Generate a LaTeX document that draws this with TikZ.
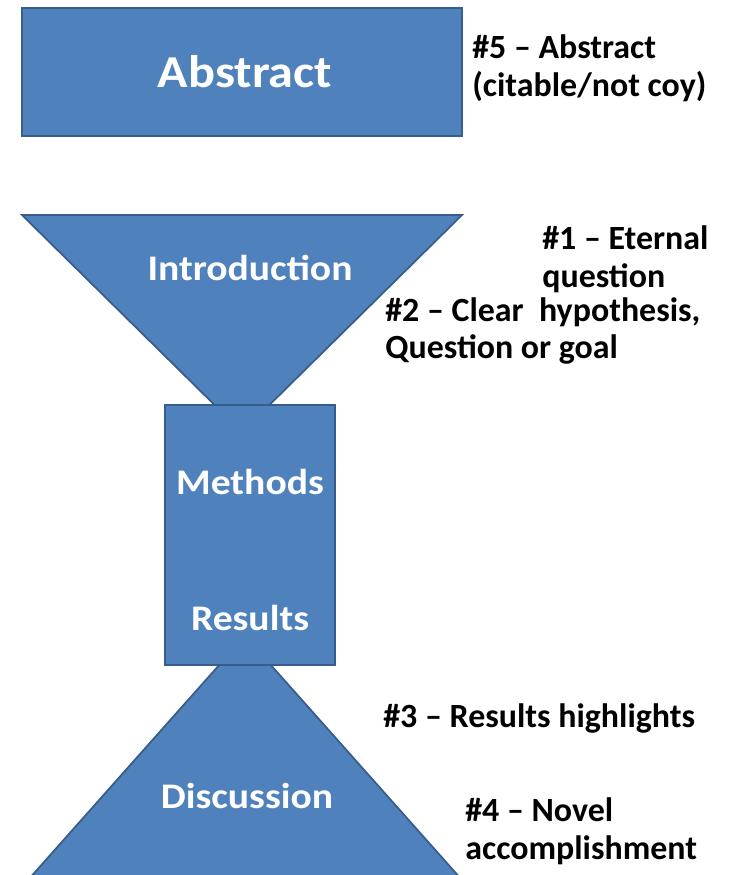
\documentclass[tikz,border=0pt]{standalone}
\usepackage{fontspec}
\setmainfont{Carlito}
\newfontfamily\partfont{Carlito}[FakeStretch=1.1]
\usetikzlibrary{positioning}
\definecolor{paperblue}{RGB}{79,129,189}
\definecolor{paperedge}{RGB}{56,93,138}

\begin{document}
\begin{tikzpicture}[x=0.02cm,y=-0.02cm,
  blok/.style={fill=paperblue,draw=paperedge,line width=1pt},
  part/.style={text=white,font=\partfont\bfseries\fontsize{20.5}{25}\selectfont},
  note/.style={anchor=west,align=left,inner sep=0pt,font=\bfseries\fontsize{19.3}{21.5}\selectfont}]
\useasboundingbox (0,0) rectangle (743,875);
\fill[white] (0,0) rectangle (743,875);

% shapes of the paper
\draw[blok] (22,8) rectangle (462,136);
\draw[blok] (22,215) -- (462,215) -- (242,432) -- cycle;
\draw[blok] (245,636) -- (462,880) -- (28,880) -- cycle;
\draw[blok] (165,405) rectangle (335,665);

% section names
\node[part,font=\partfont\bfseries\fontsize{26}{30}\selectfont] (abstract) at (245,72) {Abstract};
\node[part] (intro) at (250,268) {Introduction};
\node[part] (methods) at (250,482) {Methods};
\node[part] (results) at (250,618) {Results};
\node[part] (discussion) at (247,796) {Discussion};

% the five points
\node[note] (p5) at (472,68) {\#5 -- Abstract\\(citable/not coy)};
\node[note] (p1) at (542,259) {\#1 -- Eternal\\question};
\node[note] (p2) at (385,331) {\#2 -- Clear\ \ hypothesis,\\Question or goal};
\node[note] (p3) at (383,718) {\#3 -- Results highlights};
\node[note] (p4) at (465,831) {\#4 -- Novel\\accomplishment};
\end{tikzpicture}
\end{document}
